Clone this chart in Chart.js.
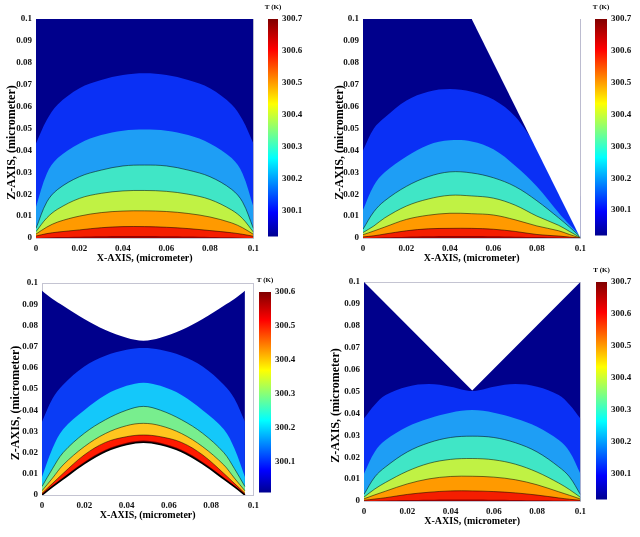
<!DOCTYPE html>
<html lang="en">
<head>
<meta charset="UTF-8">
<title>Temperature contours</title>
<script src="https://cdn.jsdelivr.net/npm/chart.js@4.4.0/dist/chart.umd.min.js"></script>
<style>
    body { margin: 0; background: #fff; }
    #wrap { position: relative; width: 640px; height: 537px; overflow: hidden; }
    #wrap canvas { position: absolute; }
</style>
</head>
<body>
<div id="wrap">
    <canvas id="plot1"></canvas>
    <canvas id="plot2"></canvas>
    <canvas id="plot3"></canvas>
    <canvas id="plot4"></canvas>
    <canvas id="bar1"></canvas>
    <canvas id="bar2"></canvas>
    <canvas id="bar3"></canvas>
    <canvas id="bar4"></canvas>
</div>

<script>
    // sample positions along X for the contour lines
    const xFlat = [0, 0.005, 0.01, 0.02, 0.03, 0.04, 0.05, 0.06, 0.07, 0.08, 0.09, 0.095, 0.1];
    const xArch = [0, 0.005, 0.01, 0.02, 0.03, 0.04, 0.048, 0.056, 0.066, 0.076, 0.086, 0.091, 0.096];
    const xEdges = [0, 0.1];

    const xTicks = [0, 0.02, 0.04, 0.06, 0.08, 0.1];
    const zTicks = [0, 0.01, 0.02, 0.03, 0.04, 0.05, 0.06, 0.07, 0.08, 0.09, 0.1];
    const tempTicks = [300.1, 300.2, 300.3, 300.4, 300.5, 300.6, 300.7];
    const tempTicks3 = [300.1, 300.2, 300.3, 300.4, 300.5, 300.6];
    const tempRange = [300.02, 300.7];
    const tempRange3 = [300.01, 300.6];

    const xLabel = 'X-AXIS, (micrometer)';
    const zLabel = 'Z-AXIS, (micrometer)';
    const cbLabel = 'T (K)';

    // panel 1: square domain (upper edge of each temperature band)
    const p1Top    = [0.1, 0.1];
    const p1Blue   = [0.0432, 0.0540, 0.0610, 0.0684, 0.0721, 0.0744, 0.0752, 0.0744, 0.0721, 0.0684, 0.0610, 0.0540, 0.0432];
    const p1LBlue  = [0.0143, 0.0295, 0.0365, 0.0432, 0.0470, 0.0490, 0.0495, 0.0490, 0.0470, 0.0432, 0.0365, 0.0295, 0.0143];
    const p1Cyan   = [0.0044, 0.0165, 0.0222, 0.0280, 0.0310, 0.0329, 0.0333, 0.0329, 0.0310, 0.0280, 0.0222, 0.0165, 0.0044];
    const p1Green  = [0.0029, 0.0092, 0.0132, 0.0181, 0.0204, 0.0215, 0.0217, 0.0213, 0.0200, 0.0176, 0.0128, 0.0089, 0.0027];
    const p1Orange = [0.0018, 0.0050, 0.0073, 0.0100, 0.0116, 0.0123, 0.0124, 0.0121, 0.0112, 0.0096, 0.0069, 0.0047, 0.0017];
    const p1Red    = [0.0009, 0.0020, 0.0027, 0.0037, 0.0047, 0.0052, 0.0052, 0.0049, 0.0043, 0.0034, 0.0024, 0.0017, 0.0008];
    const p1DRed   = [0, 0.0002, 0.0004, 0.0006, 0.0008, 0.0009, 0.0009, 0.0008, 0.0007, 0.0005, 0.0003, 0.0001, 0];

    // panel 2: trapezoid, slanted right side
    const p2Top    = [0.1, 0.1];
    const p2Blue   = [0.0400, 0.0500, 0.0550, 0.0628, 0.0668, 0.0680, 0.0668, 0.0632, 0.0555, 0.0420, 0.0310, 0.0250, 0.0190];
    const p2LBlue  = [0.0128, 0.0240, 0.0300, 0.0372, 0.0425, 0.0446, 0.0441, 0.0405, 0.0330, 0.0235, 0.0115, 0.0060, 0.0010];
    const p2Cyan   = [0.0040, 0.0120, 0.0170, 0.0236, 0.0280, 0.0302, 0.0297, 0.0275, 0.0235, 0.0170, 0.0092, 0.0050, 0.0005];
    const p2Green  = [0.0025, 0.0055, 0.0092, 0.0146, 0.0178, 0.0195, 0.0192, 0.0182, 0.0150, 0.0100, 0.0058, 0.0030, 0.0002];
    const p2Orange = [0.0015, 0.0032, 0.0050, 0.0085, 0.0104, 0.0113, 0.0111, 0.0105, 0.0083, 0.0055, 0.0033, 0.0016, 0];
    const p2Red    = [0.0005, 0.0010, 0.0018, 0.0033, 0.0042, 0.0044, 0.0044, 0.0040, 0.0030, 0.0016, 0.0009, 0.0004, 0];
    const p2DRed   = [0, 0.0001, 0.0003, 0.0006, 0.0008, 0.0009, 0.0009, 0.0008, 0.0006, 0.0004, 0.0002, 0.0001, 0];
    const p2CutX   = [0.05, 0.1];
    const p2CutZ   = [0.1, 0];

    // panel 3: curved top and arched bottom
    const p3Top    = [0.0964, 0.0925, 0.0893, 0.0830, 0.0778, 0.0742, 0.0728, 0.0742, 0.0778, 0.0830, 0.0893, 0.0925, 0.0964];
    const p3Blue   = [0.0345, 0.0455, 0.0520, 0.0606, 0.0657, 0.0685, 0.0693, 0.0685, 0.0657, 0.0606, 0.0520, 0.0455, 0.0345];
    const p3LBlue  = [0.0085, 0.0220, 0.0310, 0.0400, 0.0472, 0.0515, 0.0530, 0.0515, 0.0472, 0.0400, 0.0310, 0.0220, 0.0085];
    const p3Green  = [0.0040, 0.0125, 0.0200, 0.0291, 0.0355, 0.0400, 0.0418, 0.0400, 0.0355, 0.0291, 0.0200, 0.0125, 0.0040];
    const p3Yellow = [0.0020, 0.0080, 0.0142, 0.0228, 0.0290, 0.0327, 0.0338, 0.0327, 0.0290, 0.0228, 0.0142, 0.0080, 0.0020];
    const p3Red    = [0.0008, 0.0055, 0.0102, 0.0189, 0.0248, 0.0275, 0.0283, 0.0275, 0.0248, 0.0189, 0.0102, 0.0055, 0.0008];
    const p3DRed   = [0.0002, 0.0045, 0.0083, 0.0156, 0.0213, 0.0246, 0.0257, 0.0246, 0.0213, 0.0156, 0.0083, 0.0045, 0.0002];
    const p3Arch   = [0, 0.0039, 0.0076, 0.0148, 0.0205, 0.0238, 0.0249, 0.0238, 0.0205, 0.0148, 0.0076, 0.0039, 0];

    // panel 4: V-notch at the top
    const p4TopX   = [0, 0.05, 0.1];
    const p4TopZ   = [0.1, 0.0505, 0.1];
    const p4Blue   = [0.0377, 0.0440, 0.0484, 0.0522, 0.0534, 0.0522, 0.0502, 0.0522, 0.0534, 0.0522, 0.0484, 0.0440, 0.0377];
    const p4LBlue  = [0.0125, 0.0225, 0.0278, 0.0339, 0.0377, 0.0403, 0.0415, 0.0403, 0.0377, 0.0339, 0.0278, 0.0225, 0.0125];
    const p4Cyan   = [0.0030, 0.0110, 0.0156, 0.0224, 0.0266, 0.0290, 0.0296, 0.0290, 0.0266, 0.0224, 0.0156, 0.0110, 0.0030];
    const p4Green  = [0.0018, 0.0055, 0.0085, 0.0136, 0.0172, 0.0190, 0.0194, 0.0188, 0.0168, 0.0132, 0.0082, 0.0052, 0.0017];
    const p4Orange = [0.0010, 0.0028, 0.0045, 0.0078, 0.0101, 0.0112, 0.0113, 0.0109, 0.0097, 0.0074, 0.0042, 0.0026, 0.0009];
    const p4Red    = [0.0003, 0.0009, 0.0015, 0.0030, 0.0040, 0.0046, 0.0046, 0.0043, 0.0037, 0.0027, 0.0014, 0.0008, 0.0003];
    const p4DRed   = [0, 0.0001, 0.0002, 0.0004, 0.0006, 0.0007, 0.0007, 0.0006, 0.0005, 0.0003, 0.0002, 0.0001, 0];

    // colours of the bands, coldest first
    const bands = ['#00008c', '#0a30f5', '#1e9ef5', '#40e6c6', '#c0f244', '#ff9a00', '#f51e00', '#9a0000'];
    const bands3 = ['#00008c', '#0a3cf5', '#14c8fa', '#78ee8e', '#ffc61e', '#ff1a00', '#800000'];
    const jet = [[0, '#00008f'], [0.11, '#0000ff'], [0.36, '#00ffff'], [0.61, '#ffff00'], [0.86, '#ff0000'], [1, '#800000']];

    const FONT = "'Liberation Serif', 'Times New Roman', serif";
    const FRAME = '#c4c4d2';
    const LINE = 'rgba(0,0,0,0.65)';
    const CB_PAD = 6;   // room left of the colour bar so "T (K)" is not cut

    function place(id, left, top, w, h) {
        const c = document.getElementById(id);
        c.width = w;
        c.height = h;
        c.style.left = left + 'px';
        c.style.top = top + 'px';
        c.style.width = w + 'px';
        c.style.height = h + 'px';
        return c;
    }

    function band(xs, zs, color, line, smooth, fill) {
        return {
            data: xs.map((x, i) => ({x: x, y: zs[i]})),
            backgroundColor: color,
            borderColor: line || 'rgba(0,0,0,0)',
            borderWidth: line ? 0.8 : 0,
            fill: fill || 'origin',
            pointRadius: 0,
            tension: smooth ? 0.35 : 0,
        };
    }

    // rotated Z axis label, sits a bit below the axis middle like the original
    const zTitle = {
        id: 'zTitle',
        afterDraw(chart, args, opts) {
            const {ctx, chartArea} = chart;
            ctx.save();
            ctx.font = 'bold 12px ' + FONT;
            ctx.fillStyle = '#000';
            ctx.translate(opts.x, (chartArea.top + chartArea.bottom) / 2 + opts.dy);
            ctx.rotate(-Math.PI / 2);
            ctx.textAlign = 'center';
            ctx.textBaseline = 'middle';
            ctx.fillText(zLabel, 0, 0);
            ctx.restore();
        }
    };

    // "T (K)" above the colour bar (axis titles get squeezed to the bar width)
    const cbTitle = {
        id: 'cbTitle',
        afterDraw(chart) {
            const {ctx, chartArea} = chart;
            ctx.save();
            ctx.font = 'bold 7px ' + FONT;
            ctx.fillStyle = '#000';
            ctx.textAlign = 'center';
            ctx.textBaseline = 'middle';
            ctx.fillText(cbLabel, (chartArea.left + chartArea.right) / 2, chartArea.top - 12);
            ctx.restore();
        }
    };

    const fmt = v => String(+Number(v).toFixed(3));

    function contourChart(canvas, layers, titleX) {
        // first layer is painted first (underneath)
        layers.forEach((ds, i) => { ds.order = layers.length - i; });
        const hiddenAxis = (pos) => ({
            type: 'linear', position: pos, min: 0, max: 0.1,
            ticks: {display: false},
            grid: {display: false, drawTicks: false},
            border: {color: FRAME, width: 1},
            afterFit: s => { if (pos === 'top') s.height = 0; else s.width = 0; },
        });
        return new Chart(canvas, {
            type: 'line',
            data: {datasets: layers},
            options: {
                responsive: false,
                animation: false,
                layout: {padding: {top: 19, right: 8, left: 0, bottom: 0}},
                plugins: {
                    legend: {display: false},
                    tooltip: {enabled: false},
                    zTitle: {x: titleX, dy: 14},
                },
                scales: {
                    x: {
                        type: 'linear', min: 0, max: 0.1,
                        afterBuildTicks: s => { s.ticks = xTicks.map(v => ({value: v})); },
                        ticks: {font: {family: FONT, size: 9, weight: 'bold'}, color: '#111', padding: 5,
                                maxRotation: 0, autoSkip: false, callback: fmt},
                        grid: {display: false, drawTicks: false},
                        border: {color: FRAME, width: 1},
                        title: {display: true, text: xLabel, color: '#000',
                                font: {family: FONT, size: 10, weight: 'bold'}, padding: {top: 0, bottom: 6}},
                        afterFit: s => { s.height = 32; },
                    },
                    y: {
                        type: 'linear', min: 0, max: 0.1,
                        afterBuildTicks: s => { s.ticks = zTicks.map(v => ({value: v})); },
                        ticks: {font: {family: FONT, size: 9, weight: 'bold'}, color: '#111', padding: 4,
                                autoSkip: false, callback: fmt},
                        grid: {display: false, drawTicks: false},
                        border: {color: FRAME, width: 1},
                        afterFit: s => { s.width = 36; },
                    },
                    x2: hiddenAxis('top'),
                    y2: hiddenAxis('right'),
                },
            },
            plugins: [zTitle],
        });
    }

    function colorBar(canvas, barWidth, range, ticks) {
        const axisWidth = canvas.width - barWidth - CB_PAD;
        return new Chart(canvas, {
            type: 'bar',
            data: {
                labels: [''],
                datasets: [{
                    data: [range],
                    borderWidth: 0,
                    barPercentage: 1,
                    categoryPercentage: 1,
                    backgroundColor: (ctx) => {
                        const a = ctx.chart.chartArea;
                        if (!a) return null;
                        const g = ctx.chart.ctx.createLinearGradient(0, a.bottom, 0, a.top);
                        jet.forEach(s => g.addColorStop(s[0], s[1]));
                        return g;
                    },
                }],
            },
            options: {
                responsive: false,
                animation: false,
                layout: {padding: {top: 19, bottom: 8, left: CB_PAD}},
                plugins: {legend: {display: false}, tooltip: {enabled: false}},
                scales: {
                    x: {display: false},
                    y: {
                        position: 'right', min: range[0], max: range[1],
                        afterBuildTicks: s => { s.ticks = ticks.map(v => ({value: v})); },
                        ticks: {font: {family: FONT, size: 9, weight: 'bold'}, color: '#111', padding: 4,
                                callback: v => Number(v).toFixed(1)},
                        grid: {display: false, drawTicks: false},
                        border: {display: false},
                        afterFit: s => { s.width = axisWidth; },
                    },
                },
            },
            plugins: [cbTitle],
        });
    }

    // panel 1
    contourChart(place('plot1', 0, 0, 264, 270), [
        band(xEdges, p1Top, bands[0]),
        band(xFlat, p1Blue, bands[1], null, true),
        band(xFlat, p1LBlue, bands[2], null, true),
        band(xFlat, p1Cyan, bands[3], LINE, true),
        band(xFlat, p1Green, bands[4], LINE, true),
        band(xFlat, p1Orange, bands[5], LINE, true),
        band(xFlat, p1Red, bands[6], LINE, true),
        band(xFlat, p1DRed, bands[7], null, true),
    ], 12);
    colorBar(place('bar1', 268 - CB_PAD, 0, 50 + CB_PAD, 246), 10, tempRange, tempTicks);

    // panel 2
    contourChart(place('plot2', 327, 0, 264, 270), [
        band(xEdges, p2Top, bands[0]),
        band(xFlat, p2Blue, bands[1], null, true),
        band(xFlat, p2LBlue, bands[2], null, true),
        band(xFlat, p2Cyan, bands[3], LINE, true),
        band(xFlat, p2Green, bands[4], LINE, true),
        band(xFlat, p2Orange, bands[5], LINE, true),
        band(xFlat, p2Red, bands[6], LINE, true),
        band(xFlat, p2DRed, bands[7], null, true),
        band(p2CutX, p2CutZ, '#ffffff', null, false, 'end'),
    ], 13);
    colorBar(place('bar2', 595 - CB_PAD, 0, 45 + CB_PAD, 245), 12, tempRange, tempTicks);

    // panel 3
    contourChart(place('plot3', 6, 264, 258, 263), [
        band(xArch, p3Top, bands3[0], null, true),
        band(xArch, p3Blue, bands3[1], null, true),
        band(xArch, p3LBlue, bands3[2], null, true),
        band(xArch, p3Green, bands3[3], LINE, true),
        band(xArch, p3Yellow, bands3[4], LINE, true),
        band(xArch, p3Red, bands3[5], LINE, true),
        band(xArch, p3DRed, bands3[6], null, true),
        Object.assign(band(xArch, p3Arch, '#ffffff', '#000000', true), {borderWidth: 1.6}),
    ], 10);
    colorBar(place('bar3', 259 - CB_PAD, 273, 52 + CB_PAD, 229), 12, tempRange3, tempTicks3);

    // panel 4
    contourChart(place('plot4', 328, 263, 263, 270), [
        band(p4TopX, p4TopZ, bands[0]),
        band(xFlat, p4Blue, bands[1], null, true),
        band(xFlat, p4LBlue, bands[2], null, true),
        band(xFlat, p4Cyan, bands[3], LINE, true),
        band(xFlat, p4Green, bands[4], LINE, true),
        band(xFlat, p4Orange, bands[5], LINE, true),
        band(xFlat, p4Red, bands[6], LINE, true),
        band(xFlat, p4DRed, bands[7], null, true),
    ], 8);
    colorBar(place('bar4', 596 - CB_PAD, 263, 44 + CB_PAD, 246), 11, tempRange, tempTicks);
</script>
</body>
</html>
